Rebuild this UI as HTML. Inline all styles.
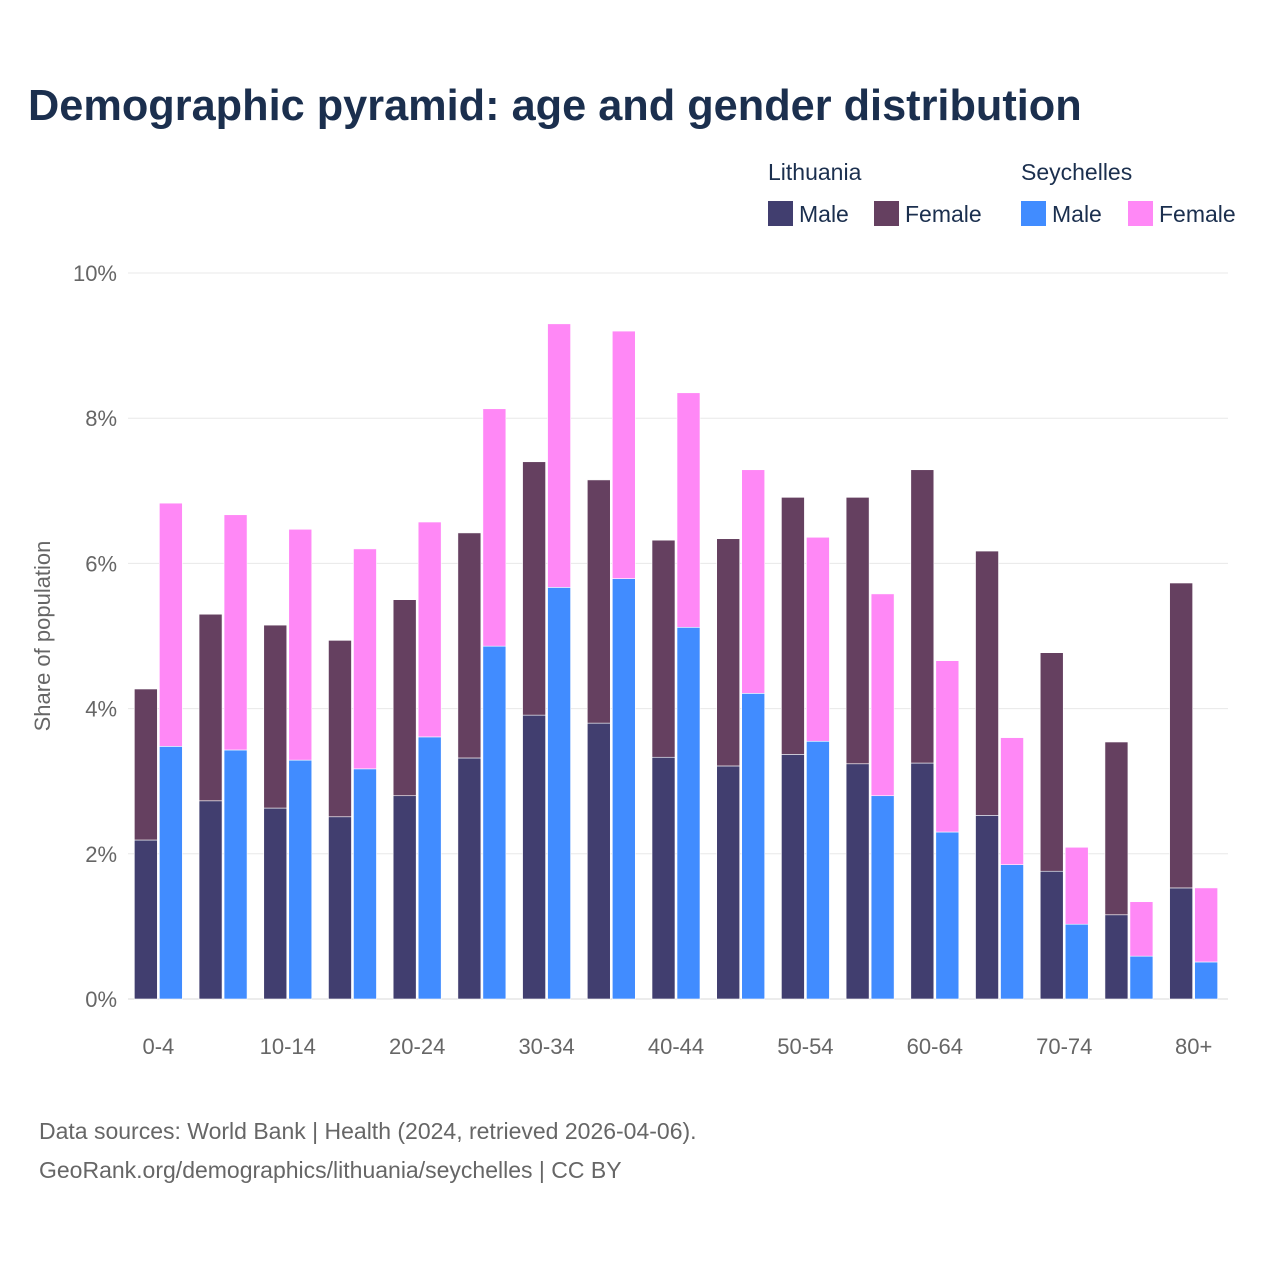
<!DOCTYPE html>
<html><head><meta charset="utf-8"><style>
body{margin:0;background:#fff;font-family:"Liberation Sans",sans-serif}
#wrap{position:relative;width:1280px;height:1280px}
.t{position:absolute;white-space:nowrap}
</style></head><body>
<div id="wrap">
<div class="t" style="left:28px;top:82px;font-size:43.3px;font-weight:bold;color:#1b2f4e">Demographic pyramid: age and gender distribution</div>
<svg id="c" width="1280" height="1280" style="position:absolute;left:0;top:0"></svg>
</div>
<script>
const categories=["0-4","5-9","10-14","15-19","20-24","25-29","30-34","35-39","40-44","45-49","50-54","55-59","60-64","65-69","70-74","75-79","80+"];
const ltMale=[2.19,2.73,2.63,2.51,2.80,3.32,3.91,3.80,3.33,3.21,3.37,3.24,3.25,2.53,1.76,1.16,1.53];
const ltFemale=[2.08,2.57,2.52,2.43,2.70,3.10,3.49,3.35,2.99,3.13,3.54,3.67,4.04,3.64,3.01,2.38,4.20];
const scMale=[3.48,3.43,3.29,3.17,3.61,4.86,5.67,5.79,5.12,4.21,3.55,2.80,2.30,1.85,1.03,0.59,0.51];
const scFemale=[3.35,3.24,3.18,3.03,2.96,3.27,3.63,3.41,3.23,3.08,2.81,2.78,2.36,1.75,1.06,0.75,1.02];
const yTicks=[0,2,4,6,8,10];
const tickLabels=["0%","2%","4%","6%","8%","10%"];
const svg=document.getElementById('c');const NS="http://www.w3.org/2000/svg";
const y0=999,pxPer=72.6,xL=126,xR=1226,gridL=128,gridR=1228,gw=(xR-xL)/categories.length;
const y=v=>y0-v*pxPer;
function mk(t,a){const e=document.createElementNS(NS,t);for(const k in a)e.setAttribute(k,a[k]);svg.appendChild(e);return e;}
yTicks.forEach((v,i)=>{
 const l=mk('line',{x1:gridL,x2:gridR,y1:y(v),y2:y(v),stroke:v===0?'#d8d8d8':'#e8e8e8','stroke-width':1});
 
 
 const t=mk('text',{x:117,y:y(v)+8,'text-anchor':'end','font-size':22,fill:'#666','font-family':'Liberation Sans'});
 t.textContent=tickLabels[i];
 
 
});
const yt=mk('text',{x:50,y:636,'text-anchor':'middle','font-size':22,fill:'#666',transform:'rotate(-90 50 636)','font-family':'Liberation Sans'});
yt.textContent="Share of population";


categories.forEach((c,i)=>{
 const cx=xL+gw*(i+0.5),bw=23;
 const segs=[[cx-24,0,ltMale[i],'#413e6f'],[cx-24,ltMale[i],ltFemale[i],'#654060'],[cx+1,0,scMale[i],'#418cff'],[cx+1,scMale[i],scFemale[i],'#ff88f6']];
 segs.forEach(s=>{
  const r=mk('rect',{x:s[0],y:y(s[1]+s[2]),width:bw,height:s[2]*pxPer,fill:s[3],stroke:'#fff','stroke-width':0.6});
  
  
 });
 if(i%2===0){
  const t=mk('text',{x:cx,y:1054,'text-anchor':'middle','font-size':22,fill:'#666','font-family':'Liberation Sans'});
  t.textContent=c;
  
  
 }
});
const lg=[["Lithuania",768],["Seychelles",1021]];
lg.forEach(g=>{const t=mk('text',{x:g[1],y:180,'font-size':23,fill:'#1b2f4e','font-family':'Liberation Sans'});t.textContent=g[0];
 
 });
[[768,'#413e6f','Male'],[874,'#654060','Female'],[1021,'#418cff','Male'],[1128,'#ff88f6','Female']].forEach(e=>{
 const r=mk('rect',{x:e[0],y:201,width:25,height:25,fill:e[1]});
 
 
 const t=mk('text',{x:e[0]+31,y:222,'font-size':23,fill:'#1b2f4e','font-family':'Liberation Sans'});t.textContent=e[2];
 
 
});
[["Data sources: World Bank | Health (2024, retrieved 2026-04-06).",1139],["GeoRank.org/demographics/lithuania/seychelles | CC BY",1178]].forEach(s=>{
 const t=mk('text',{x:39,y:s[1],'font-size':23,fill:'#666','font-family':'Liberation Sans'});t.textContent=s[0];
 
 
});
</script>
</body></html>
